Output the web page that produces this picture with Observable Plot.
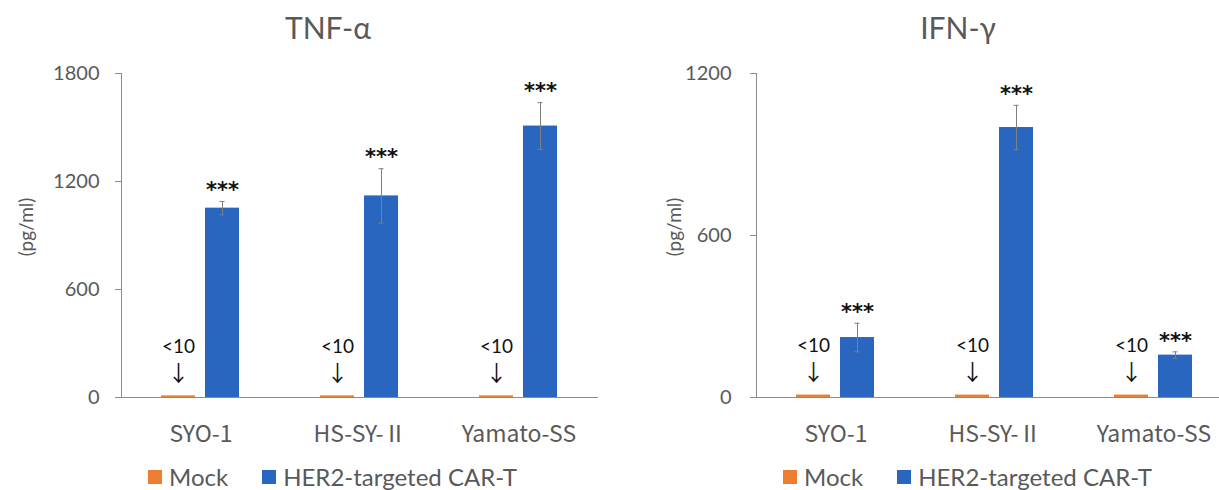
<!DOCTYPE html>
<html>
<head>
<meta charset="utf-8">
<script src="https://cdn.jsdelivr.net/npm/d3@7"></script>
<script src="https://cdn.jsdelivr.net/npm/@observablehq/plot@0.6"></script>
<style>
  html, body { margin: 0; padding: 0; background: #fff; overflow: hidden; }
  body { width: 1219px; height: 490px; position: relative; font-family: Lato, "Noto Sans", sans-serif; }
  .panel { position: absolute; top: 0; width: 635px; height: 490px; }
  .panel svg { position: absolute; top: 0; left: 0; }
  .title { position: absolute; top: 12px; font-size: 30px; line-height: 30px; color: #595959; transform: translateX(-50%); white-space: nowrap; }
  .unit { position: absolute; top: 227px; font-size: 19px; line-height: 19px; color: #595959; transform: translate(-50%, -50%) rotate(-90deg); white-space: nowrap; }
  .legend { position: absolute; top: 465px; left: 148px; display: flex; align-items: center; font-size: 24px; line-height: 24px; color: #595959; white-space: nowrap; }
  .item { display: flex; align-items: center; margin-right: 34px; }
  .sw { width: 14px; height: 14px; margin-right: 7px; }
</style>
</head>
<body>
<script>
// Cell lines and treatment groups
const categories = ["SYO-1", "HS-SY-Ⅱ", "Yamato-SS"];
const series = ["Mock", "HER2-targeted CAR-T"];
const seriesColors = ["#ED7D31", "#2966C0"];

// TNF-α (pg/ml): mean and SD per cell line
const tnfMock = [9, 9, 9];
const tnfCarT = [1052, 1120, 1508];
const tnfSd = [37, 151, 130];
const tnfTicks = [0, 600, 1200, 1800];

// IFN-γ (pg/ml): mean and SD per cell line
const ifnMock = [9, 9, 9];
const ifnCarT = [222, 1000, 157];
const ifnSd = [53, 82, 12];
const ifnTicks = [0, 600, 1200];

const detectionLabel = "<10";
const significance = "***";
const unitLabel = "(pg/ml)";

function rows(mock, carT, sd) {
  return categories.flatMap((c, i) => [
    {cat: c, series: series[0], value: mock[i], sd: 0},
    {cat: c, series: series[1], value: carT[i], sd: sd[i]}
  ]);
}

const axisGrey = "#8c8c8c";
const textGrey = "#595959";

function panel({left, title, titleX, unitX, data, ticks, tickPadding}) {
  const div = document.createElement("div");
  div.className = "panel";
  div.style.left = left + "px";
  const mock = data.filter(d => d.series === series[0]);
  const carT = data.filter(d => d.series === series[1]);

  const chart = Plot.plot({
    width: 635,
    height: 460,
    marginLeft: 120,
    marginRight: 37,
    marginTop: 73,
    marginBottom: 63,
    style: {fontFamily: "Lato, 'Noto Sans', sans-serif", background: "transparent", overflow: "visible"},
    fx: {domain: categories, padding: 0},
    x: {domain: series, paddingInner: 10 / 45, paddingOuter: 0.8815, axis: null},
    y: {domain: [0, ticks[ticks.length - 1]]},
    color: {domain: series, range: seriesColors},
    marks: [
      Plot.frame({anchor: "left", stroke: axisGrey, facetAnchor: "left"}),
      Plot.axisY({ticks, tickFormat: d => String(d), tickSize: 6, tickPadding, fontSize: 20, fill: textGrey, stroke: axisGrey, label: null}),
      Plot.axisFx({anchor: "bottom", tickSize: 0, tickPadding: 28, fontSize: 23, fontFamily: "'Noto Sans CJK JP'", fill: textGrey, label: null}),
      Plot.barY(data, {fx: "cat", x: "series", y: "value", fill: "series"}),
      Plot.ruleY([0], {stroke: axisGrey}),
      // error bars
      Plot.ruleX(carT, {fx: "cat", x: "series", y1: d => d.value - d.sd, y2: d => d.value + d.sd, stroke: "#7f7f7f"}),
      Plot.tickY(carT, {fx: "cat", x: "series", y: d => d.value + d.sd, stroke: "#7f7f7f", insetLeft: 14.5, insetRight: 14.5}),
      Plot.tickY(carT, {fx: "cat", x: "series", y: d => d.value - d.sd, stroke: "#7f7f7f", insetLeft: 14.5, insetRight: 14.5}),
      // significance marks
      Plot.text(carT, {fx: "cat", x: "series", y: d => d.value + d.sd, text: () => significance, dy: -11, fontSize: 21, fontWeight: "bold", fontFamily: "'DejaVu Sans'", fill: "#111"}),
      // below-detection notes for Mock
      Plot.text(mock, {fx: "cat", x: "series", y: "value", text: () => detectionLabel, dy: -49, fontSize: 19, fill: "#111"}),
      Plot.text(mock, {fx: "cat", x: "series", y: "value", text: () => "↓", dy: -22, fontSize: 22, fontFamily: "'Noto Sans CJK JP'", fill: "#111"})
    ]
  });
  div.append(chart);

  const t = document.createElement("div");
  t.className = "title";
  t.style.left = titleX + "px";
  t.textContent = title;
  div.append(t);

  const u = document.createElement("div");
  u.className = "unit";
  u.style.left = unitX + "px";
  u.textContent = unitLabel;
  div.append(u);

  const lg = document.createElement("div");
  lg.className = "legend";
  series.forEach((s, i) => {
    const item = document.createElement("div");
    item.className = "item";
    const sw = document.createElement("div");
    sw.className = "sw";
    sw.style.background = seriesColors[i];
    const lab = document.createElement("span");
    lab.textContent = s;
    item.append(sw, lab);
    lg.append(item);
  });
  div.append(lg);

  document.body.append(div);
}

panel({left: 0, title: "TNF-α", titleX: 328, unitX: 25, data: rows(tnfMock, tnfCarT, tnfSd), ticks: tnfTicks, tickPadding: 16});
panel({left: 635, title: "IFN-γ", titleX: 323, unitX: 38, data: rows(ifnMock, ifnCarT, ifnSd), ticks: ifnTicks, tickPadding: 19});
</script>
</body>
</html>
